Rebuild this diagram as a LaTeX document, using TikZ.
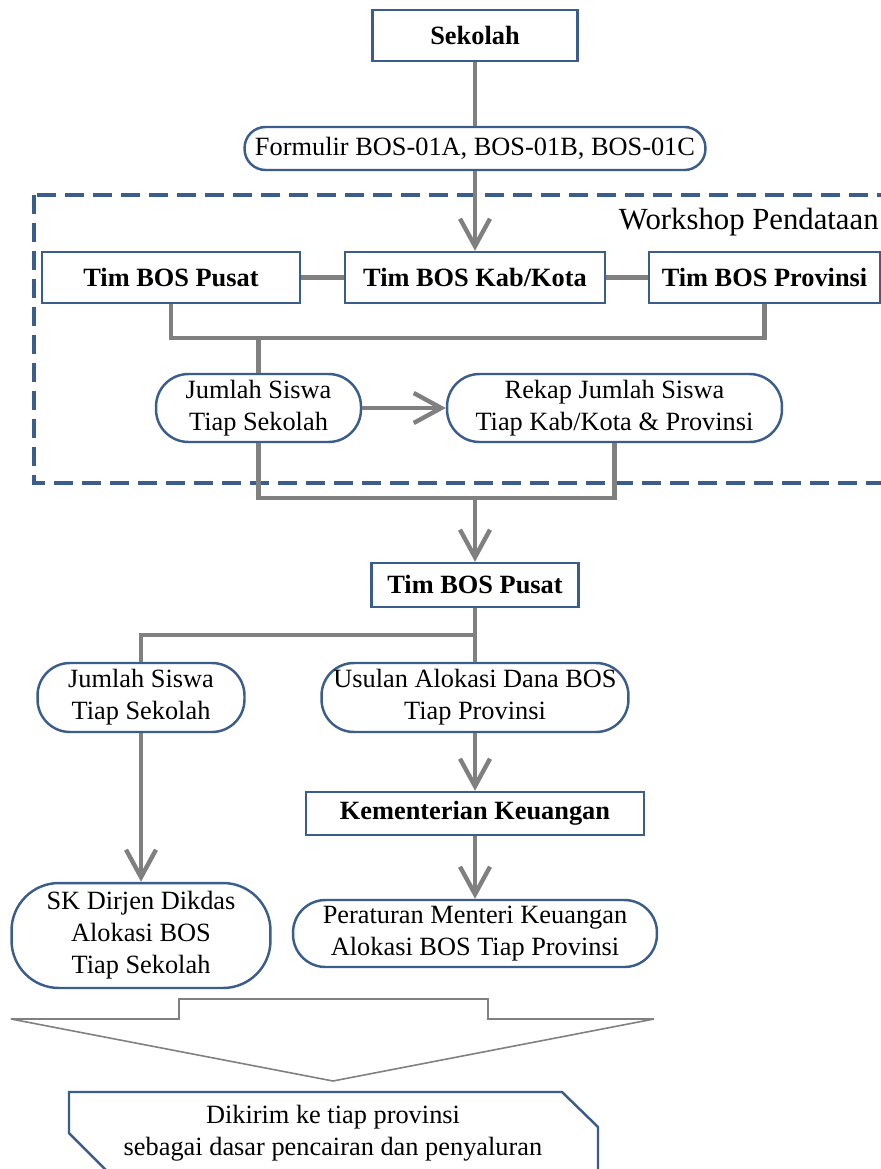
\documentclass[tikz,border=0pt]{standalone}
\usepackage{fontspec}
\setmainfont{Liberation Serif}
\usepackage{tikz}
\usetikzlibrary{arrows.meta}
\definecolor{bordercol}{RGB}{59,93,140}
\definecolor{linegray}{RGB}{128,128,128}

\begin{document}
\begin{tikzpicture}[x=0.02cm, y=-0.02cm,
  font=\fontsize{15}{18.2}\selectfont,
  boxnode/.style={rectangle, draw=bordercol, line width=1.4pt, fill=white, font=\fontsize{15}{18.2}\selectfont\bfseries, inner sep=0pt, align=center},
  roundnode/.style={rectangle, draw=bordercol, line width=1.4pt, fill=white, rounded corners=0.65cm, inner sep=0pt, align=center},
  conn/.style={draw=linegray, line width=2.5pt},
  arr/.style={conn, -{Straight Barb[length=0.55cm, width=0.6cm]}}]
\useasboundingbox (0,0) rectangle (881,1169);

\draw[bordercol, line width=2.3pt, dash pattern=on 0.38cm off 0.18cm] (34,195) rectangle (905,483);
\node (workshop) [anchor=east, inner sep=0pt, font=\fontsize{17.5}{21}\selectfont] at (879,222) {Workshop Pendataan};

\node (sekolah) at (475,35.5) [boxnode, minimum width=4.1cm, minimum height=1.02cm] {Sekolah};
\node (formulir) at (475,148.5) [roundnode, rounded corners=0.42cm, minimum width=9.22cm, minimum height=0.86cm] {Formulir BOS-01A, BOS-01B, BOS-01C};

\node (pusatA) at (171,277.5) [boxnode, minimum width=5.16cm, minimum height=1.02cm] {Tim BOS Pusat};
\node (kabkota) at (475,277.5) [boxnode, minimum width=5.2cm, minimum height=1.02cm] {Tim BOS Kab/Kota};
\node (provinsi) at (764.5,277.5) [boxnode, minimum width=4.62cm, minimum height=1.02cm] {Tim BOS Provinsi};

\node (jumlahA) at (258.5,408) [roundnode, minimum width=4.1cm, minimum height=1.36cm] {Jumlah Siswa\\Tiap Sekolah};
\node (rekap) at (614.5,408) [roundnode, minimum width=6.7cm, minimum height=1.36cm] {Rekap Jumlah Siswa\\Tiap Kab/Kota \& Provinsi};

\node (pusatB) at (475,585) [boxnode, minimum width=4.14cm, minimum height=0.88cm] {Tim BOS Pusat};

\node (jumlahB) at (141,697.5) [roundnode, minimum width=4.14cm, minimum height=1.38cm] {Jumlah Siswa\\Tiap Sekolah};
\node (usulan) at (475,697.5) [roundnode, minimum width=6.14cm, minimum height=1.38cm] {Usulan Alokasi Dana BOS\\Tiap Provinsi};

\node (kemenkeu) at (475,813.5) [boxnode, minimum width=6.76cm, minimum height=0.86cm] {Kementerian Keuangan};

\node (sk) at (141,935.5) [roundnode, rounded corners=0.95cm, minimum width=5.18cm, minimum height=2.1cm] {SK Dirjen Dikdas\\Alokasi BOS\\Tiap Sekolah};
\node (peraturan) at (475,933.5) [roundnode, minimum width=7.28cm, minimum height=1.34cm] {Peraturan Menteri Keuangan\\Alokasi BOS Tiap Provinsi};

\coordinate (bar) at (475,338);
\coordinate (join) at (475,498);
\coordinate (split) at (475,635);

\draw[conn] (sekolah) -- (formulir);
\draw[arr] (formulir) -- (kabkota);
\draw[conn] (pusatA) -- (kabkota);
\draw[conn] (kabkota) -- (provinsi);
\draw[conn] (pusatA.south) |- (bar) -| (provinsi.south);
\draw[conn] (jumlahA.north) -- (jumlahA.north |- bar);
\draw[arr] (jumlahA) -- (rekap);
\draw[conn] (jumlahA.south) |- (join) -| (rekap.south);
\draw[arr] (join) -- (pusatB);

\draw[conn] (pusatB) -- (usulan);
\draw[conn] (split) -| (jumlahB.north);
\draw[arr] (jumlahB) -- (sk);
\draw[arr] (usulan) -- (kemenkeu);
\draw[arr] (kemenkeu) -- (peraturan);

\draw[linegray, line width=0.9pt, fill=white] (179,999) -- (488,999) -- (488,1019) -- (654,1019) -- (333,1081) -- (11,1019) -- (179,1019) -- cycle;

\draw[bordercol, line width=1.4pt, fill=white] (69,1092) -- (562,1092) -- (598,1127) -- (598,1180) -- (116,1180) -- (69,1133) -- cycle;
\node (dikirim) at (333,1133) [align=center] {Dikirim ke tiap provinsi\\sebagai dasar pencairan dan penyaluran};
\end{tikzpicture}
\end{document}
